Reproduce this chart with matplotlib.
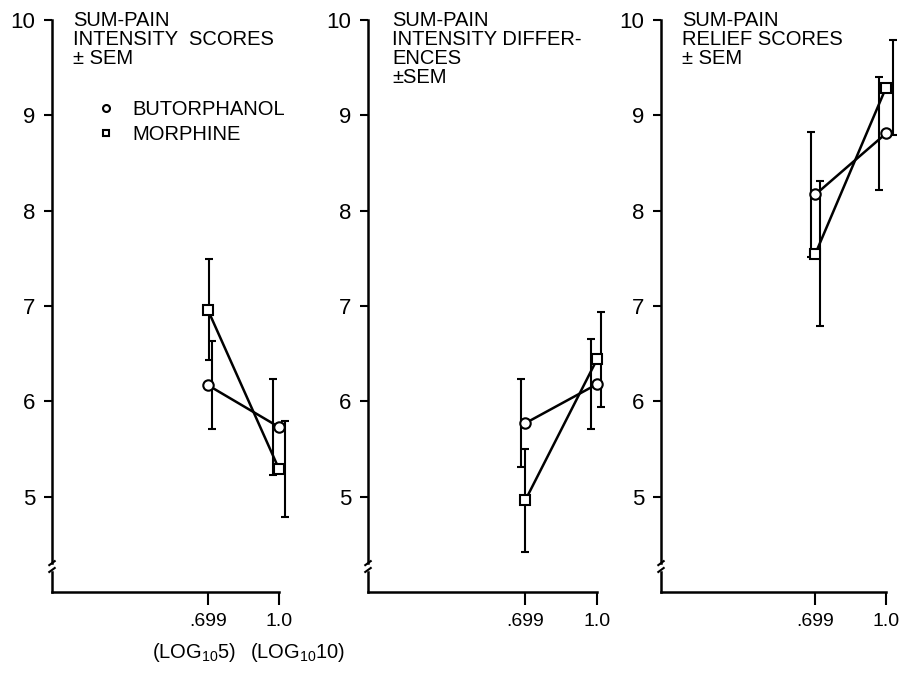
import matplotlib
matplotlib.use('Agg')
import matplotlib.pyplot as plt
import matplotlib.transforms as mtransforms
from matplotlib.lines import Line2D

plt.rcParams['font.family'] = ['Liberation Sans', 'DejaVu Sans']
plt.rcParams['mathtext.fontset'] = 'custom'
plt.rcParams['mathtext.rm'] = 'Liberation Sans'
plt.rcParams['mathtext.default'] = 'regular'

# dose (log10 of mg)
doses = [0.699, 1.0]

# panel titles
titles = ['SUM-PAIN\nINTENSITY  SCORES\n\u00b1 SEM',
          'SUM-PAIN\nINTENSITY DIFFER-\nENCES\n\u00b1SEM',
          'SUM-PAIN\nRELIEF SCORES\n\u00b1 SEM']

# means and SEM
butorphanol = [[6.17, 5.73], [5.77, 6.18], [8.17, 8.81]]
butorphanol_sem = [[0.46, 0.50], [0.46, 0.47], [0.66, 0.59]]
morphine = [[6.96, 5.29], [4.96, 6.44], [7.55, 9.29]]
morphine_sem = [[0.53, 0.50], [0.54, 0.50], [0.76, 0.50]]

yticks = [5, 6, 7, 8, 9, 10]
xticklabels = ['.699', '1.0']

fig = plt.figure(figsize=(9, 6.9), dpi=100)

lefts = [52, 368, 661]
widths = [227, 229, 225]
bottom_px, top_px = 592, 20

# error bars are drawn a few points beside each marker
bar_shift_b = [[3, -4], [-3, -4], [-3, -5]]
bar_shift_m = [[1, 4], [0, 3], [3, 5]]

for i in range(3):
    ax = fig.add_axes([lefts[i] / 900, (690 - bottom_px) / 690,
                       widths[i] / 900, (bottom_px - top_px) / 690])
    ax.set_xlim(0.04, 1.0)
    ax.set_ylim(4.0, 10.0)
    for s in ['top', 'right']:
        ax.spines[s].set_visible(False)
    ax.spines['left'].set_bounds(4.3, 10)
    ax.spines['left'].set_linewidth(1.8)
    ax.spines['bottom'].set_linewidth(1.8)

    ax.set_yticks(yticks)
    ax.set_yticklabels([str(v) for v in yticks])
    ax.set_xticks(doses)
    ax.set_xticklabels(xticklabels)
    ax.tick_params(axis='y', length=6, width=1.5, labelsize=16, pad=6)
    ax.tick_params(axis='x', length=9, width=1.5, labelsize=14, pad=6)

    # axis break mark
    ax.plot([0, 0], [0, 0.035], color='black', lw=1.8, transform=ax.transAxes, clip_on=False)
    ax.plot([-0.012, 0.012], [0.035, 0.042], color='black', lw=1.5, transform=ax.transAxes, clip_on=False)
    ax.plot([-0.012, 0.012], [0.047, 0.054], color='black', lw=1.5, transform=ax.transAxes, clip_on=False)

    ax.plot(doses, butorphanol[i], color='black', lw=1.8, marker='o', ms=7.5,
            mfc='white', mec='black', mew=1.5, clip_on=False, zorder=3)
    ax.plot(doses, morphine[i], color='black', lw=1.8, marker='s', ms=7,
            mfc='white', mec='black', mew=1.5, clip_on=False, zorder=3)

    for j in range(2):
        tr = ax.transData + mtransforms.ScaledTranslation(bar_shift_b[i][j] / 72, 0, fig.dpi_scale_trans)
        ax.errorbar([doses[j]], [butorphanol[i][j]], yerr=[butorphanol_sem[i][j]], fmt='none',
                    ecolor='black', elinewidth=1.5, capsize=3, capthick=1.5,
                    transform=tr, clip_on=False)
        tr = ax.transData + mtransforms.ScaledTranslation(bar_shift_m[i][j] / 72, 0, fig.dpi_scale_trans)
        ax.errorbar([doses[j]], [morphine[i][j]], yerr=[morphine_sem[i][j]], fmt='none',
                    ecolor='black', elinewidth=1.5, capsize=3, capthick=1.5,
                    transform=tr, clip_on=False)

    ax.text([0.093, 0.105, 0.093][i], 1.016, titles[i], transform=ax.transAxes,
            ha='left', va='top', fontsize=14.5, linespacing=1.0)

    if i == 0:
        handles = [Line2D([], [], ls='none', marker='o', ms=5, mfc='white', mec='black', mew=1.5),
                   Line2D([], [], ls='none', marker='s', ms=5, mfc='white', mec='black', mew=1.5)]
        ax.legend(handles, ['BUTORPHANOL', 'MORPHINE'], frameon=False, fontsize=14.5,
                  loc='upper left', bbox_to_anchor=(0.16, 0.875), handlelength=1.0,
                  handletextpad=0.8, labelspacing=0.3, borderaxespad=0)
        ax.text(doses[0] - 0.06, -0.085, r'(LOG$_{10}$5)', transform=ax.get_xaxis_transform(),
                ha='center', va='top', fontsize=14.5)
        ax.text(doses[1] + 0.08, -0.085, r'(LOG$_{10}$10)', transform=ax.get_xaxis_transform(),
                ha='center', va='top', fontsize=14.5)

fig.savefig('out.png', dpi=100)
